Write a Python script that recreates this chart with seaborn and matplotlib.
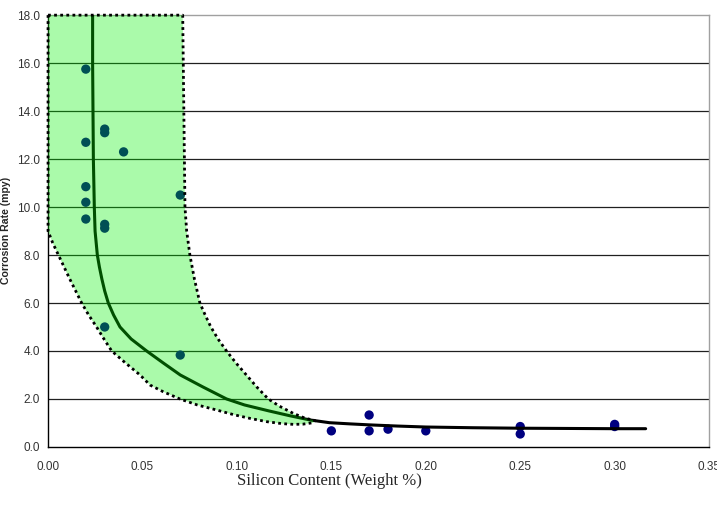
import matplotlib
matplotlib.use("Agg")
import matplotlib.pyplot as plt
import numpy as np
import seaborn as sns

# Pontos medidos: teor de silicio (% peso) x taxa de corrosao (mpy)
silicio = [0.02, 0.02, 0.02, 0.02, 0.02, 0.03, 0.03, 0.03, 0.03, 0.04, 0.07,
           0.03, 0.07, 0.15, 0.17, 0.17, 0.18, 0.20, 0.25, 0.25, 0.30, 0.30]
corrosao = [15.75, 12.7, 10.85, 10.2, 9.5, 13.25, 13.1, 9.28, 9.12, 12.3, 10.5,
            5.0, 3.83, 0.67, 1.33, 0.67, 0.74, 0.67, 0.85, 0.54, 0.94, 0.85]

# Curva de tendencia
curva_x = [0.0236, 0.0236, 0.0240, 0.0245, 0.0249, 0.0261, 0.0272, 0.0285,
           0.0300, 0.0319, 0.0347, 0.0381, 0.0440, 0.0522, 0.0610, 0.0700,
           0.0820, 0.0945, 0.1040, 0.1170, 0.1280, 0.1386, 0.1490, 0.1600,
           0.1700, 0.1850, 0.2000, 0.2250, 0.2500, 0.2750, 0.3000, 0.3164]
curva_y = [18.0, 16.0, 12.0, 10.0, 9.0, 8.0, 7.5, 7.0,
           6.5, 6.0, 5.5, 5.0, 4.5, 4.0, 3.5, 3.0,
           2.5, 2.0, 1.75, 1.5, 1.3, 1.125, 1.01, 0.96,
           0.92, 0.87, 0.83, 0.80, 0.78, 0.77, 0.76, 0.76]

# Faixa (limite superior/direito e inferior/esquerdo)
faixa_sup_x = [0.0, 0.0713, 0.0725, 0.0734, 0.0751, 0.0775, 0.0804, 0.0832,
               0.0862, 0.0900, 0.0945, 0.0995, 0.1050, 0.1105, 0.1166, 0.1225,
               0.1298, 0.1360, 0.1413]
faixa_sup_y = [18.0, 18.0, 10.0, 9.0, 8.0, 7.0, 6.0, 5.5,
               5.0, 4.5, 4.0, 3.5, 3.0, 2.5, 2.0, 1.7,
               1.4, 1.2, 1.1]
faixa_inf_x = [0.1404, 0.1350, 0.1300, 0.1240, 0.1160, 0.1069, 0.0980, 0.0892,
               0.0790, 0.0698, 0.0610, 0.0540, 0.0487, 0.0410, 0.0337, 0.0296,
               0.0257, 0.0215, 0.0178, 0.0115, 0.0055, 0.0025, 0.0, 0.0]
faixa_inf_y = [1.01, 0.95, 0.94, 0.97, 1.05, 1.19, 1.35, 1.54,
               1.75, 2.0, 2.3, 2.58, 3.0, 3.5, 4.0, 4.5,
               5.0, 5.5, 6.0, 7.0, 8.0, 8.5, 9.0, 18.0]

y_ticks = np.arange(0, 18.1, 2.0)
x_ticks = np.arange(0, 0.351, 0.05)

sns.set_style("white")
plt.rcParams["font.family"] = ["Liberation Sans", "DejaVu Sans"]

fig = plt.figure(figsize=(7.17, 5.05), dpi=100)
ax = fig.add_axes([0.067, 0.115, 0.922, 0.855])

# grade horizontal
for v in y_ticks[1:-1]:
    ax.axhline(v, color="#202020", linewidth=0.9, zorder=0.5)

sns.scatterplot(x=silicio, y=corrosao, color="#000080", s=45, edgecolor="none",
                ax=ax, zorder=2, legend=False)

sns.lineplot(x=curva_x, y=curva_y, sort=False, estimator=None, color="black",
             linewidth=2.2, ax=ax, zorder=3)

faixa_x = faixa_sup_x + faixa_inf_x
faixa_y = faixa_sup_y + faixa_inf_y
ax.fill(faixa_x, faixa_y, color=(0.0, 0.94, 0.0), alpha=0.333, linewidth=0, zorder=4)
ax.plot(faixa_x, faixa_y, color="black", linestyle=(0, (1, 1.2)), linewidth=2.0,
        zorder=5, clip_on=False)

ax.set_xlim(0, 0.35)
ax.set_ylim(0, 18)
ax.set_xticks(x_ticks)
ax.set_yticks(y_ticks)
ax.set_xticklabels([f"{v:.2f}" for v in x_ticks])
ax.set_yticklabels([f"{v:.1f}" for v in y_ticks])
ax.tick_params(axis="x", direction="out", length=5, width=1, colors="black",
               labelcolor="#333333", labelsize=8.5, pad=5)
ax.tick_params(axis="y", direction="inout", length=8, width=1, colors="black",
               labelcolor="#333333", labelsize=8.5, pad=2)

ax.spines["left"].set_color("black")
ax.spines["bottom"].set_color("black")
ax.spines["top"].set_color("#a0a0a0")
ax.spines["right"].set_color("#a0a0a0")
for s in ax.spines.values():
    s.set_linewidth(1.0)

ax.set_xlabel("")
ax.set_ylabel("")
fig.text(0.459, 0.048, "Silicon Content (Weight %)", ha="center", va="center",
         fontsize=12, family=["Liberation Serif", "DejaVu Serif"])
fig.text(0.009, 0.543, "Corrosion Rate (mpy)", ha="center", va="center",
         rotation=90, fontsize=7.6, fontweight="bold")

fig.savefig("out.png", dpi=100)
